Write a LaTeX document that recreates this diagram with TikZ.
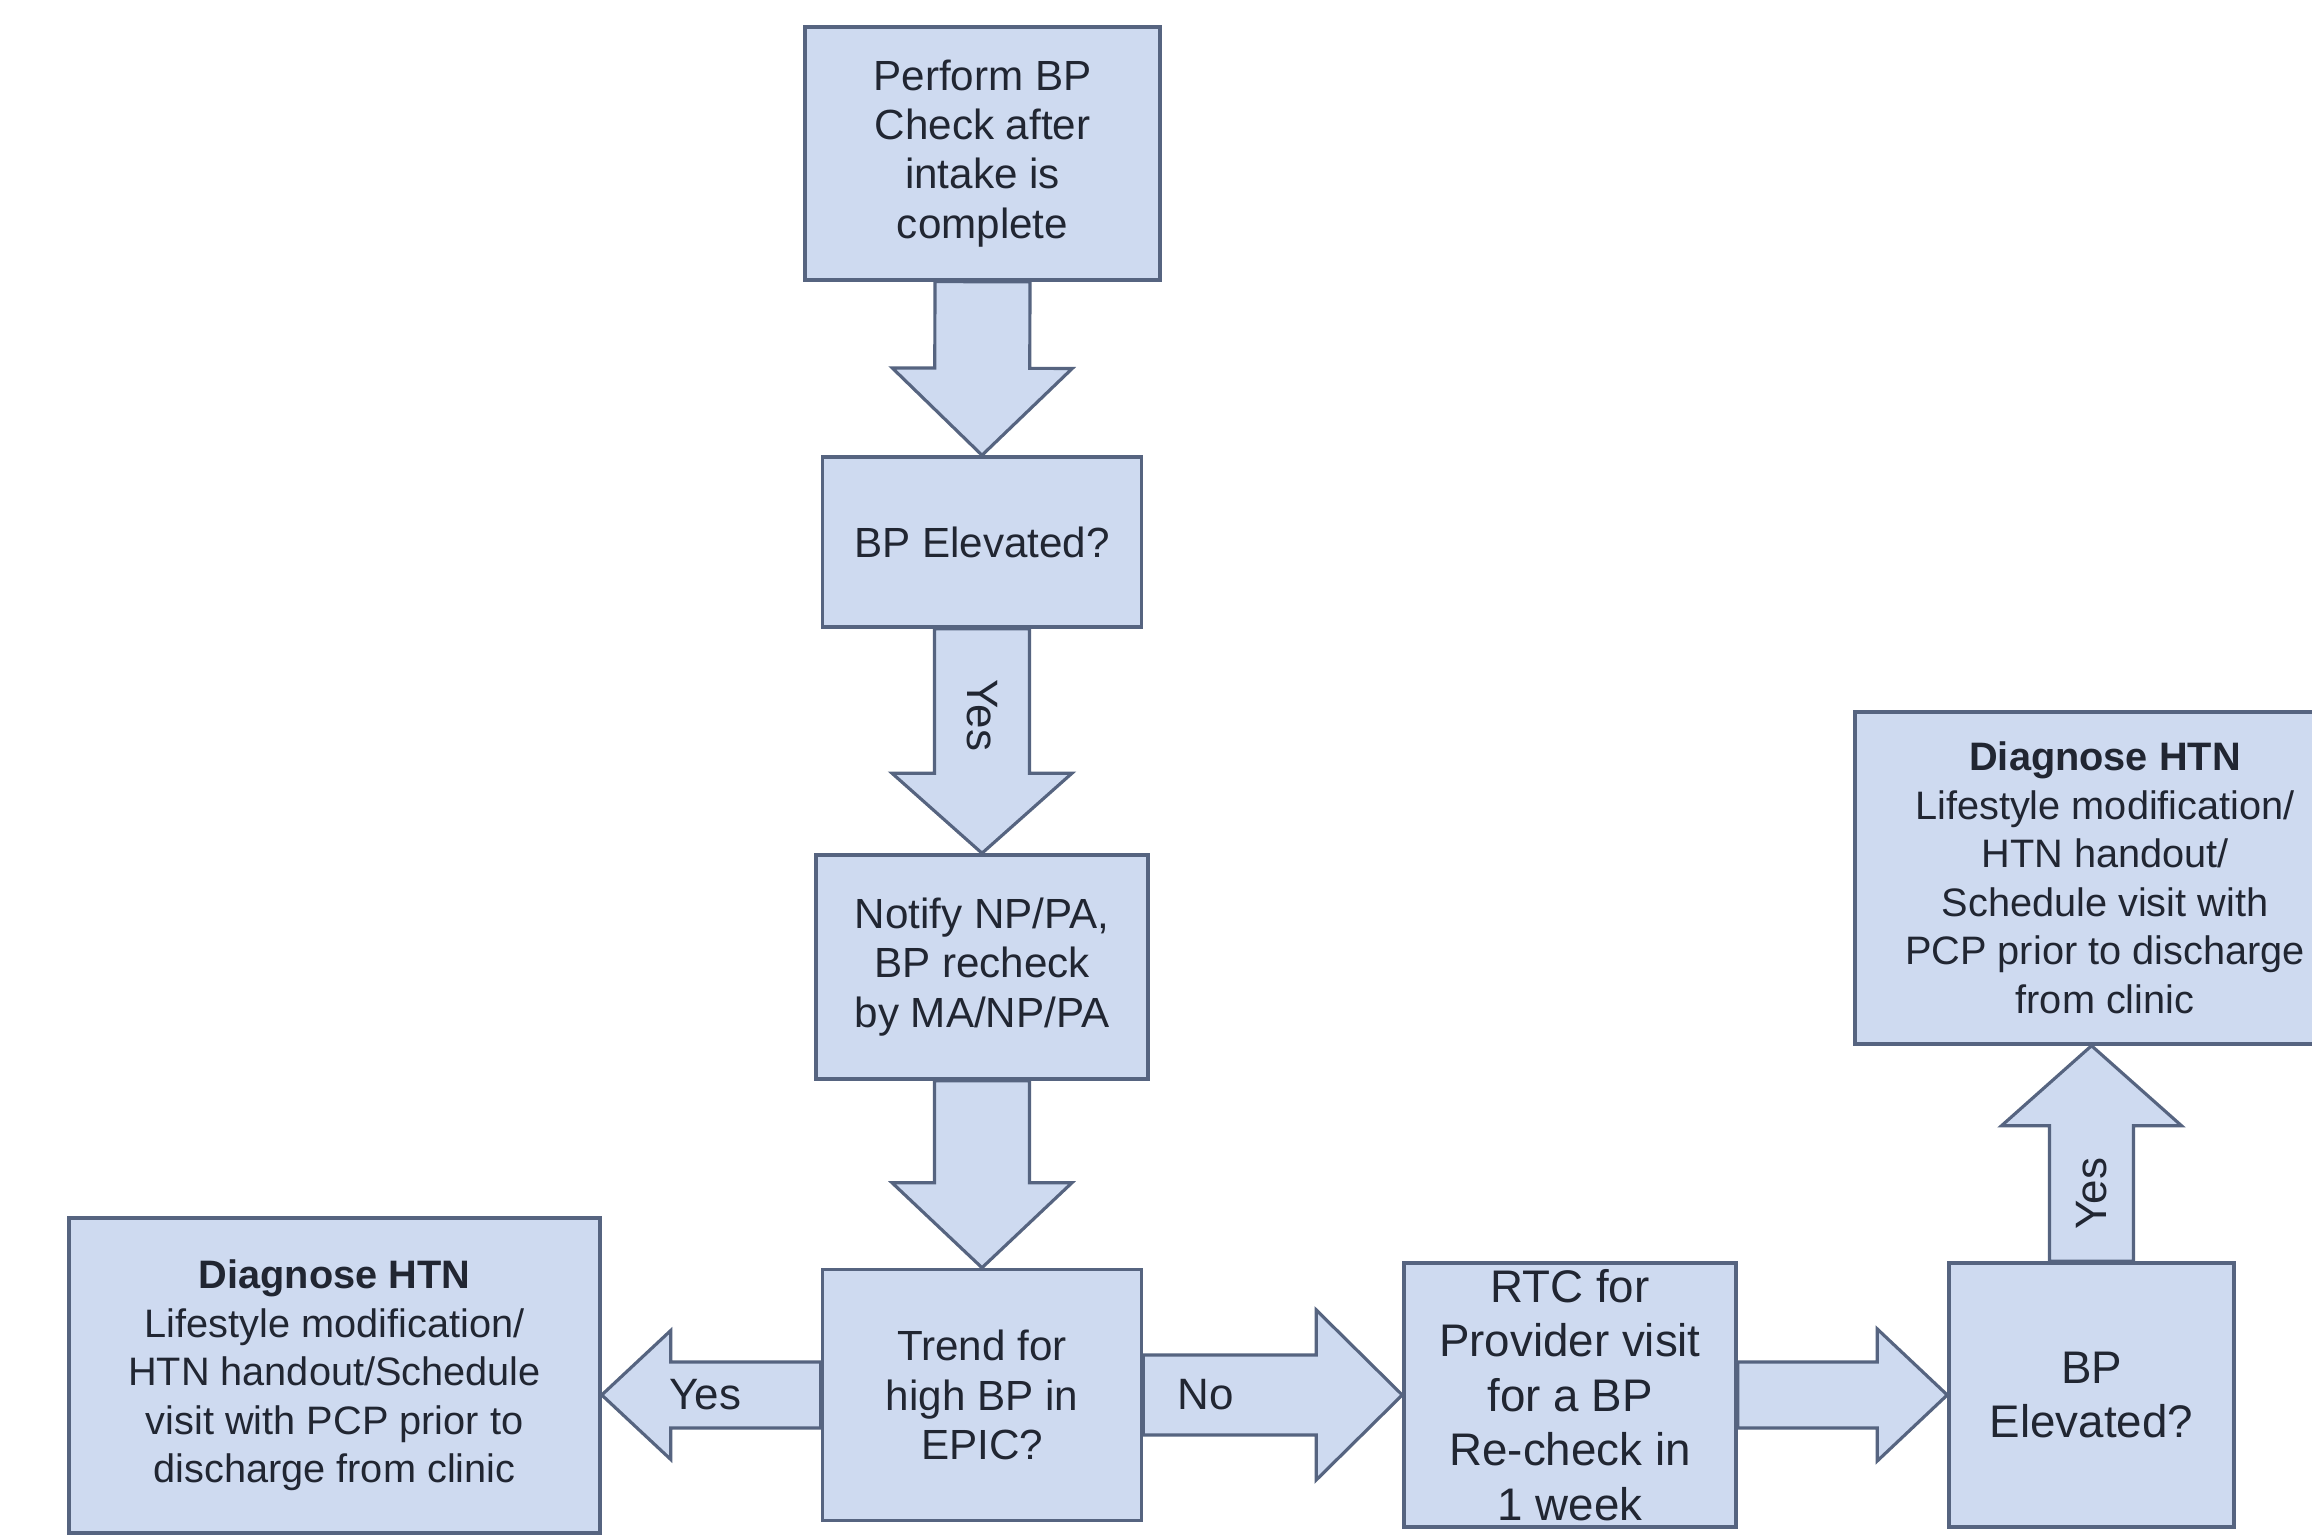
\documentclass[tikz,border=0pt]{standalone}
\usepackage{fontspec}
\setmainfont{Liberation Sans}
\usetikzlibrary{calc}
\definecolor{boxfill}{RGB}{206,218,240}
\definecolor{boxline}{RGB}{86,100,128}
\definecolor{textdark}{RGB}{33,38,50}
% block arrow: [label], tail, tip, shaft half width, head half width, head length
\newcommand{\fatarrow}[6][]{%
 \coordinate (fa-h) at ($(#3)!#6!(#2)$);
 \draw[fatarrow] ($(#2)!#4!90:(#3)$) -- ($(fa-h)!#4!90:(#3)$) -- ($(fa-h)!#5!90:(#3)$) -- (#3)
   -- ($(fa-h)!#5!-90:(#3)$) -- ($(fa-h)!#4!-90:(#3)$) -- ($(#2)!#4!-90:(#3)$) -- cycle;
 \path (#2) -- (fa-h) #1;
}
\begin{document}
\begin{tikzpicture}[>=stealth,
  box/.style={draw=boxline, fill=boxfill, line width=1pt, align=center, inner sep=0pt,
    text=textdark, font=\fontsize{12}{14}\selectfont},
  bigbox/.style={box, font=\fontsize{13}{15.5}\selectfont},
  htnbox/.style={box, font=\fontsize{11.3}{13.8}\selectfont},
  fatarrow/.style={draw=boxline, fill=boxfill, line width=0.9pt, line join=miter},
  lbl/.style={text=textdark, font=\fontsize{12.5}{14}\selectfont, inner sep=0pt}]
 \useasboundingbox (0,0) rectangle (23.12,15.37);
 \clip (0,0) rectangle (23.12,15.37);
 \fill[white] (0,0) rectangle (23.12,15.37);
 % boxes
 \node[box, minimum width=3.55cm, minimum height=2.53cm] (perform) at (9.825,13.835)
   {Perform BP\\Check after\\intake is\\complete};
 \node[box, minimum width=3.19cm, minimum height=1.70cm] (elev1) at (9.82,9.95) {BP Elevated?};
 \node[box, minimum width=3.32cm, minimum height=2.24cm] (notify) at (9.82,5.70)
   {Notify NP/PA,\\BP recheck\\by MA/NP/PA};
 \node[box, minimum width=3.19cm, minimum height=2.51cm] (trend) at (9.82,1.42)
   {Trend for\\high BP in\\EPIC?};
 \node[htnbox, minimum width=5.31cm, minimum height=3.15cm] (diagL) at (3.345,1.615)
   {\textbf{Diagnose HTN}\\Lifestyle modification/\\HTN handout/Schedule\\visit with PCP prior to\\discharge from clinic};
 \node[bigbox, minimum width=3.32cm, minimum height=2.64cm] (rtc) at (15.70,1.42)
   {RTC for\\Provider visit\\for a BP\\Re-check in\\1 week};
 \node[bigbox, minimum width=2.85cm, minimum height=2.64cm] (elev2) at (20.915,1.42)
   {BP\\Elevated?};
 \node[htnbox, minimum width=5.0cm, minimum height=3.32cm] (diagR) at (21.05,6.59)
   {\textbf{Diagnose HTN}\\Lifestyle modification/\\HTN handout/\\Schedule visit with\\PCP prior to discharge\\from clinic};
 % arrows
 \fatarrow{perform.south}{elev1.north}{0.475cm}{0.9cm}{0.87cm}
 \fatarrow[{node[lbl, pos=0.6, rotate=-90] {Yes}}]{elev1.south}{notify.north}{0.475cm}{0.9cm}{0.8cm}
 \fatarrow{notify.south}{trend.north}{0.475cm}{0.9cm}{0.85cm}
 \fatarrow[{node[lbl, pos=0.77] {Yes}}]{trend.west}{trend.west -| diagL.east}{0.33cm}{0.645cm}{0.69cm}
 \fatarrow[{node[lbl, pos=0.36] {No}}]{trend.east}{trend.east -| rtc.west}{0.40cm}{0.85cm}{0.86cm}
 \fatarrow{rtc.east}{rtc.east -| elev2.west}{0.33cm}{0.66cm}{0.70cm}
 \fatarrow[{node[lbl, pos=0.5, rotate=90] {Yes}}]{elev2.north}{elev2.north |- diagR.south}{0.42cm}{0.9cm}{0.8cm}
\end{tikzpicture}
\end{document}
